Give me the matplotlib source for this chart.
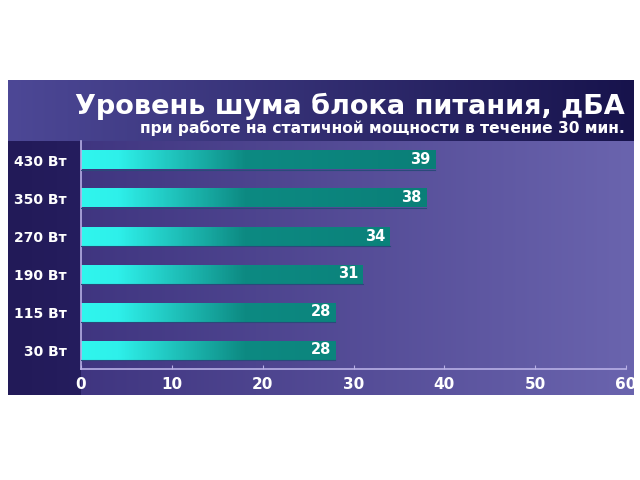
import matplotlib
matplotlib.use("Agg")
import matplotlib.pyplot as plt
import numpy as np
from matplotlib.colors import LinearSegmentedColormap

categories = ["30 Вт", "115 Вт", "190 Вт", "270 Вт", "350 Вт", "430 Вт"]
values = [28, 28, 31, 34, 38, 39]
xticks = [0, 10, 20, 30, 40, 50, 60]
title = "Уровень шума блока питания, дБА"
subtitle = "при работе на статичной мощности в течение 30 мин."

W, H = 640, 480
fig = plt.figure(figsize=(6.4, 4.8), dpi=100, facecolor="white")

def fx(px):
    return px / W

def fy(py):
    return 1 - py / H

def grad_box(x0, y0, x1, y1, c0, c1, z=0):
    ax = fig.add_axes([fx(x0), fy(y1), fx(x1) - fx(x0), fy(y0) - fy(y1)], zorder=z)
    cm = LinearSegmentedColormap.from_list("g", [c0, c1])
    ax.imshow(np.linspace(0, 1, 256)[None, :], aspect="auto", cmap=cm,
              extent=(0, 1, 0, 1))
    ax.set_axis_off()
    return ax

# background panels
grad_box(8, 80, 634, 395, "#3a2f7a", "#6a64ae", z=0)          # plot region
grad_box(8, 80, 634, 141, "#4d4896", "#17134c", z=0.1)        # title band
grad_box(8, 141, 81, 395, "#221a58", "#251d5e", z=0.1)        # label column

# main axes
ax = fig.add_axes([fx(81), fy(369), fx(626) - fx(81), fy(141) - fy(369)], zorder=1)
ax.patch.set_alpha(0)
ax.set_xlim(0, 60)
ax.set_ylim(-0.5, len(categories) - 0.5)

bar_cm = LinearSegmentedColormap.from_list(
    "bar", [(0, "#30f6ee"), (0.1, "#2ef0ea"), (0.45, "#0d8a82"), (1, "#0a7e77")])
h = 0.5
for i, v in enumerate(values):
    xs = np.linspace(0, v, 300)
    t = np.clip(xs / 40, 0, 1)
    ax.imshow(t[None, :], aspect="auto", cmap=bar_cm, vmin=0, vmax=1,
              extent=(0, v, i - h / 2, i + h / 2), zorder=2)
    ax.plot([0, v], [i - h / 2, i - h / 2], color="#2a4a7a", lw=0.8, zorder=3)
    ax.text(v - 0.5, i, str(v), ha="right", va="center", color="white",
            fontsize=10.5, fontweight="bold", zorder=4)

ax.set_yticks(range(len(categories)))
ax.set_yticklabels(categories)
ax.set_xticks(xticks)
ax.tick_params(axis="y", length=0, pad=10, labelsize=10, labelcolor="white")
ax.tick_params(axis="x", direction="in", length=3, color="#b8b0e6", pad=6,
               labelsize=11, labelcolor="white")
for lab in ax.get_xticklabels() + ax.get_yticklabels():
    lab.set_fontweight("bold")
for s in ["top", "right"]:
    ax.spines[s].set_visible(False)
for s in ["left", "bottom"]:
    ax.spines[s].set_color("#b8b0e6")
    ax.spines[s].set_linewidth(1.2)

fig.text(fx(625), fy(106), title, ha="right", va="center", color="white",
         fontsize=19.5, fontweight="bold", zorder=5)
fig.text(fx(625), fy(128), subtitle, ha="right", va="center", color="white",
         fontsize=11.2, fontweight="bold", zorder=5)

fig.savefig("out.png", dpi=100, facecolor="white")
